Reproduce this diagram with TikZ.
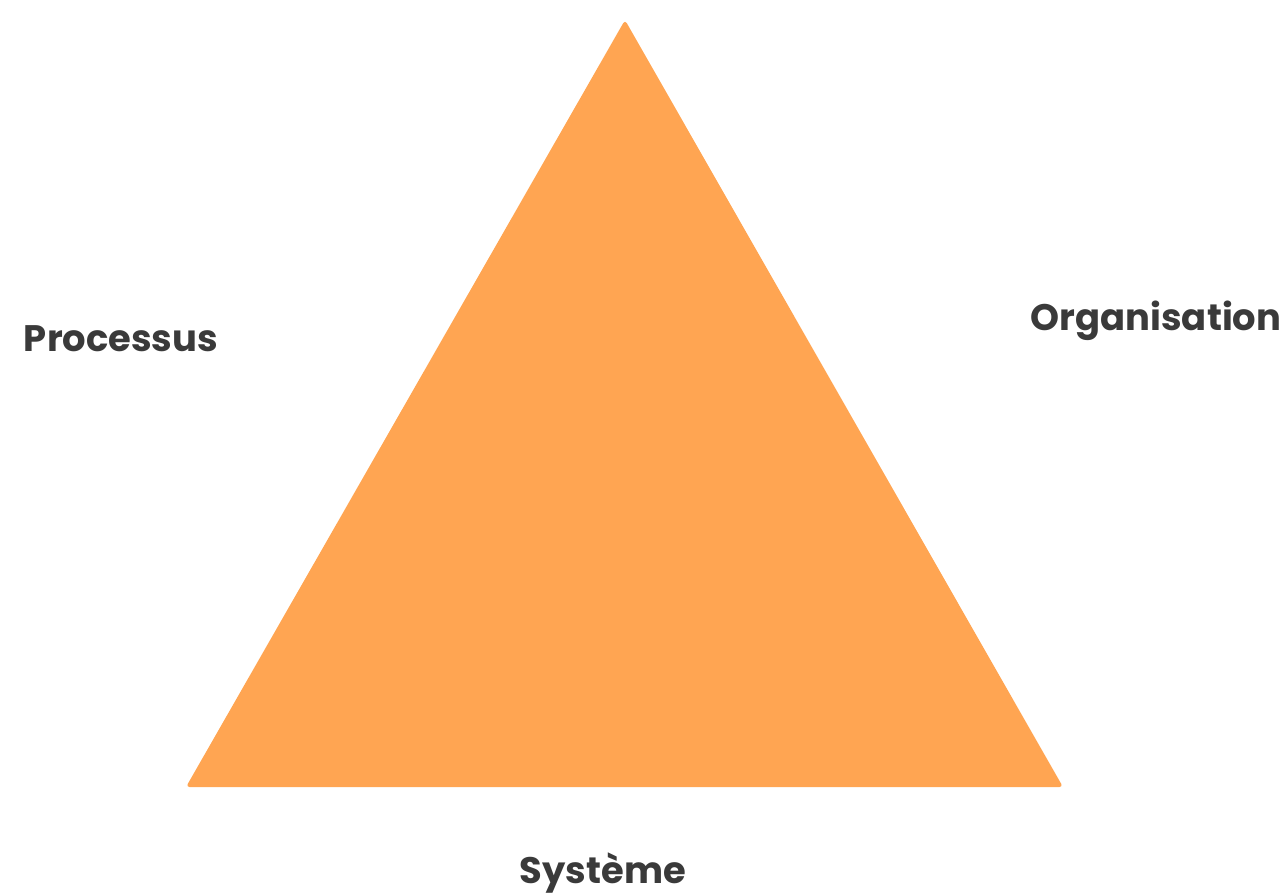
\documentclass[tikz,border=0pt]{standalone}
\usepackage{fontspec}
\setmainfont{Poppins}
\definecolor{triorange}{HTML}{FFA552}
\definecolor{labelgray}{HTML}{3A3A3A}
\tikzset{lbl/.style={text=labelgray, font=\fontsize{21}{25}\selectfont\bfseries, inner sep=0pt}}

\begin{document}
\begin{tikzpicture}[x=0.02cm, y=-0.02cm]
\useasboundingbox (0,0) rectangle (1286,896);
\coordinate (top) at (625,20);
\coordinate (left) at (186,787);
\coordinate (right) at (1063,787);
\fill[triorange, rounded corners=2pt] (top) -- (right) -- (left) -- cycle;
\node[lbl] (proc) at (121,339) {Processus};
\node[lbl] (org) at (1156,321) {Organisation};
\node[lbl] (sys) at (603,873) {Système};
\end{tikzpicture}
\end{document}
